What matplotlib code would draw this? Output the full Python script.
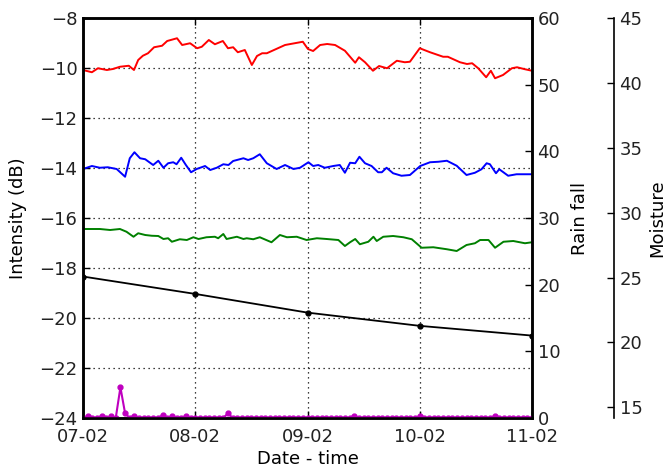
import matplotlib
matplotlib.use("Agg")
import matplotlib.pyplot as plt
import matplotlib.dates as mdates
import numpy as np
import datetime as dt

base = dt.datetime(2013, 2, 7)

# Intensity series (hours from start, dB)
red_h = [0, 1.9, 3.2, 5.1, 6.4, 7.9, 9.8, 10.9, 11.8, 12.8, 13.9, 15.2, 16.9, 18.0, 20.1, 21.2, 22.9,
         24.4, 25.4, 26.9, 28.2, 29.9, 31.0, 32.1, 33.1, 34.6, 36.1, 37.2, 38.3, 39.3, 43.2, 47.0, 48.1,
         49.2, 50.7, 52.2, 53.9, 56.0, 58.2, 59.0, 60.3, 62.0, 63.3, 65.0, 67.1, 68.8, 69.9, 72.0, 74.2,
         77.0, 78.0, 80.6, 82.1, 83.2, 84.5, 86.2, 87.2, 88.1, 89.8, 91.7, 92.8, 94.5, 96]
red_v = [-10.08, -10.17, -10.01, -10.08, -10.04, -9.95, -9.91, -10.08, -9.68, -9.51, -9.41, -9.17, -9.11,
         -8.92, -8.81, -9.08, -9.01, -9.21, -9.15, -8.88, -9.05, -8.92, -9.21, -9.17, -9.37, -9.28, -9.88,
         -9.52, -9.41, -9.41, -9.08, -8.95, -9.24, -9.32, -9.08, -9.04, -9.08, -9.31, -9.79, -9.57, -9.77,
         -10.11, -9.92, -10.01, -9.71, -9.77, -9.75, -9.21, -9.37, -9.55, -9.55, -9.77, -9.84, -9.81,
         -10.01, -10.37, -10.11, -10.41, -10.28, -10.01, -9.97, -10.05, -10.11]

blue_h = [0, 1.9, 3.6, 5.3, 7.2, 9.0, 10.0, 11.0, 12.2, 13.3, 15.0, 16.1, 17.2, 18.2, 19.3, 20.0, 21.0,
          22.0, 23.1, 24.3, 26.1, 27.2, 28.6, 30.0, 31.1, 32.1, 34.3, 35.3, 36.4, 37.8, 39.3, 41.4, 43.2,
          45.0, 46.4, 48.2, 49.2, 50.3, 51.7, 53.5, 54.9, 56.0, 57.1, 58.2, 59.1, 60.3, 61.7, 63.1, 63.9,
          64.9, 66.3, 68.1, 69.9, 72.1, 74.2, 76.0, 77.8, 79.9, 82.0, 83.8, 85.2, 86.3, 87.0, 88.3, 89.0,
          90.9, 92.7, 96]
blue_v = [-14.04, -13.92, -13.99, -13.97, -14.04, -14.35, -13.61, -13.37, -13.61, -13.65, -13.88, -13.71,
          -13.99, -13.81, -13.77, -13.85, -13.59, -13.88, -14.17, -14.04, -13.92, -14.08, -13.99, -13.85,
          -13.88, -13.72, -13.61, -13.68, -13.61, -13.45, -13.81, -14.04, -13.88, -14.04, -13.99, -13.77,
          -13.92, -13.88, -13.99, -13.92, -13.88, -14.19, -13.79, -13.81, -13.55, -13.81, -13.92, -14.17,
          -14.17, -13.99, -14.21, -14.31, -14.28, -13.92, -13.77, -13.75, -13.71, -13.91, -14.28, -14.19,
          -14.05, -13.81, -13.85, -14.21, -14.05, -14.31, -14.25, -14.25]

green_h = [0, 3.6, 5.8, 7.9, 9.3, 10.8, 11.8, 13.3, 14.7, 16.1, 17.2, 18.2, 19.0, 20.7, 22.2, 23.6, 24.7,
           26.4, 28.2, 28.9, 30.0, 30.7, 32.9, 34.3, 35.0, 36.4, 37.8, 40.3, 42.1, 43.6, 45.7, 47.8, 50.0,
           52.1, 54.6, 56.0, 57.1, 58.2, 59.2, 61.0, 62.1, 62.8, 64.2, 66.3, 68.5, 70.3, 72.4, 74.9, 77.8,
           79.9, 82.0, 83.8, 84.9, 86.7, 88.1, 89.9, 92.0, 94.5, 96]
green_v = [-16.44, -16.44, -16.48, -16.44, -16.55, -16.75, -16.61, -16.68, -16.71, -16.72, -16.84, -16.81,
           -16.95, -16.85, -16.88, -16.77, -16.84, -16.77, -16.75, -16.81, -16.64, -16.84, -16.75, -16.84,
           -16.81, -16.85, -16.77, -16.97, -16.68, -16.77, -16.75, -16.88, -16.81, -16.84, -16.88, -17.12,
           -16.97, -16.84, -17.05, -16.95, -16.75, -16.92, -16.75, -16.72, -16.77, -16.85, -17.19, -17.17,
           -17.25, -17.32, -17.08, -17.01, -16.88, -16.88, -17.19, -16.95, -16.92, -17.01, -16.97]

# Moisture (daily)
moist_h = [0, 24, 48, 72, 96]
moist_v = [25.08, 23.74, 22.30, 21.28, 20.53]

# Rain fall (hourly)
rain_v = [0, 0.3, 0, 0, 0.3, 0, 0.3, 0, 4.6, 0.7, 0, 0.3, 0, 0, 0, 0, 0, 0.4, 0, 0.3,
          0, 0, 0.3, 0, 0, 0, 0, 0, 0, 0, 0, 0.7, 0, 0, 0, 0, 0, 0, 0, 0,
          0, 0, 0, 0, 0, 0, 0, 0, 0, 0, 0, 0, 0, 0, 0, 0, 0, 0, 0.3, 0,
          0, 0, 0, 0, 0, 0, 0, 0, 0, 0, 0, 0, 0.3, 0, 0, 0, 0, 0, 0, 0,
          0, 0, 0, 0, 0, 0, 0, 0, 0.3, 0, 0, 0, 0, 0, 0, 0, 0]
rain_h = list(range(len(rain_v)))

def to_dates(hours):
    return [base + dt.timedelta(hours=h) for h in hours]

plt.rcParams['font.family'] = ['DejaVu Sans']
plt.rcParams['font.size'] = 13

fig = plt.figure(figsize=(6.65, 4.68), dpi=100)
fig.patch.set_facecolor('white')
ax = fig.add_axes([83/665, 1-418/468, 449/665, 400/468])

ax.plot(to_dates(red_h), red_v, color=(1, 0, 0), lw=1.4)
ax.plot(to_dates(blue_h), blue_v, color=(0, 0, 1), lw=1.4)
ax.plot(to_dates(green_h), green_v, color=(0, 0.5, 0), lw=1.4)
ax.set_ylim(-24, -8)
ax.set_yticks(np.arange(-24, -7, 2))
ax.set_xlim(base, base + dt.timedelta(days=4))
ax.xaxis.set_major_locator(mdates.DayLocator())
ax.xaxis.set_major_formatter(mdates.DateFormatter('%d-%m'))
ax.grid(True, color='black', linestyle=(0, (1, 3)), linewidth=0.9)
ax.set_ylabel('Intensity (dB)', labelpad=9)
ax.set_xlabel('Date - time', labelpad=3)
ax.tick_params(direction='in', length=5, width=1, top=True, colors='black', labelcolor='#222222', pad=4)
ax.tick_params(axis='x', pad=7)
for s in ax.spines.values():
    s.set_linewidth(1.8)

ax2 = ax.twinx()
ax2.plot(to_dates(rain_h), rain_v, color=(0.75, 0, 0.75), lw=1.5, marker='o', markersize=3.5,
         markeredgecolor=(0.75, 0, 0.75))
ax2.set_ylim(0, 60)
ax2.set_yticks(np.arange(0, 61, 10))
ax2.set_ylabel('Rain fall', labelpad=8)
ax2.tick_params(direction='in', length=5, width=1, labelcolor='#222222', pad=4)
for s in ax2.spines.values():
    s.set_linewidth(1.8)

ax3 = ax.twinx()
ax3.plot(to_dates(moist_h), moist_v, color='black', lw=1.3, marker='o', markersize=3.5)
ax3.set_ylim(14.18, 45)
ax3.set_yticks(np.arange(15, 46, 5))
for k in ['top', 'bottom', 'left']:
    ax3.spines[k].set_visible(False)
ax3.spines['right'].set_position(('axes', (614 - 83) / 449))
ax3.spines['right'].set_linewidth(1.2)
ax3.set_ylabel('Moisture', labelpad=4)
ax3.tick_params(direction='in', length=5, width=1, labelcolor='#222222', pad=4)

fig.savefig('out.png', dpi=100, facecolor='white')
